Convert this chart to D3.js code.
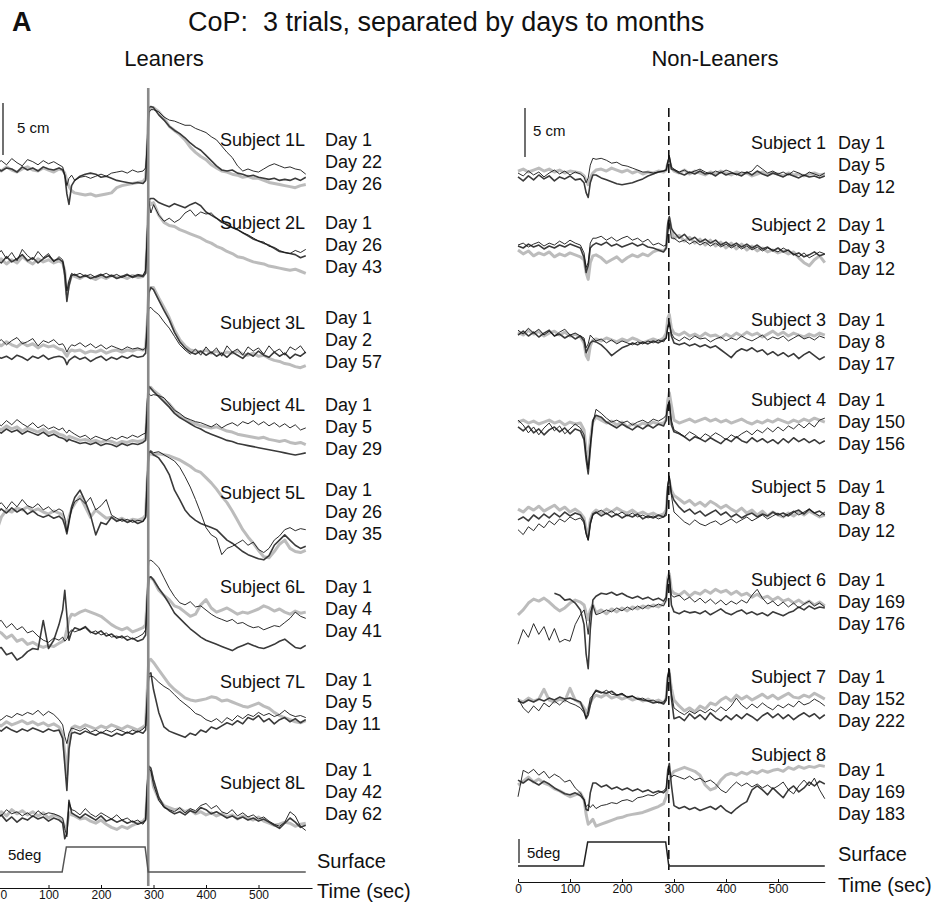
<!DOCTYPE html>
<html><head><meta charset="utf-8">
<script src="https://cdn.jsdelivr.net/npm/d3@7"></script>
<style>
body{margin:0;background:#fff}
svg{display:block}
text{font-family:"Liberation Sans",Arial,Helvetica,sans-serif;fill:#111;white-space:pre}
</style>
</head><body>
<svg id="chart" width="934" height="904"></svg>
<script>
// Sample times (s) shared by every CoP trace
const times = [0,10,20,30,40,50,60,70,80,90,100,110,120, 127,131,135,139,144,
  150,160,170,180,190,200,210,220,230,240,250,260,270,280, 285,288,291,295,
  300,310,320,330,340,350,360,370,380,390,400,410,420,430,440,450,460,470,480,490,
  500,510,520,530,540,550,560,570,580,590];

// Surface tilt (deg) over time
const surfaceTime = [0,126,134,284,290,590];
const surfaceDeg  = [0,0,5,5,0,0];
const tiltReturn = 290;
const tickValues = [0,100,200,300,400,500];

// ---- Leaners: CoP displacement (cm) ----
const cop1L_a = [0.2,-0.1,0.3,0.0,-0.2,0.1,0.3,0.0,-0.1,0.2,0.0,-0.2,0.1, 0.0,-0.3,-1.0,-1.6,-2.0, -2.2,-2.3,-2.4,-2.3,-2.5,-2.4,-2.3,-2.2,-1.7,-1.5,-1.4,-1.3,-1.2,-1.1, -0.8,2.0,5.8,5.9, 6.0,5.6,5.0,4.2,3.8,3.4,2.9,2.2,1.7,1.3,1.0,0.5,0.2,-0.1,-0.2,-0.4,-0.5,-0.7,-0.6,-0.8,-0.8,-1.0,-1.2,-1.3,-1.4,-1.5,-1.6,-1.7,-1.5,-1.4];
const cop1L_b = [0.6,0.9,0.5,1.1,0.7,0.4,1.0,0.8,0.5,0.9,0.6,0.8,0.5, 0.3,-0.5,-1.5,-0.8,-0.5, -1.0,-0.7,-0.6,-0.8,-0.6,-0.4,-0.6,-0.3,-0.2,-0.1,-0.3,0.0,-0.2,-0.1, 0.2,2.5,5.5,5.8, 5.8,5.6,5.1,4.8,4.7,4.5,4.3,4.3,4.0,3.8,3.6,3.2,2.9,2.3,1.7,1.2,0.4,-0.1,0.1,-0.1,-0.2,0.1,0.4,0.6,0.4,0.2,0.3,0.1,0.0,-0.4];
const cop1L_c = [0.3,-0.1,0.2,0.1,-0.2,0.3,0.0,0.2,-0.1,0.3,0.1,0.0,0.2, 0.0,-0.5,-2.3,-3.3,-1.5, -1.0,-0.6,-0.4,-0.3,-0.4,-0.7,-0.6,-0.8,-1.0,-1.1,-1.2,-1.3,-1.2,-1.3, -1.0,2.0,6.0,6.1, 6.0,5.3,4.8,4.2,3.8,3.5,3.1,2.6,2.2,1.9,1.4,0.9,0.4,0.0,-0.1,0.0,-0.3,-0.4,-0.6,-0.5,-0.7,-0.8,-0.9,-0.8,-1.0,-0.9,-1.0,-0.8,-1.0,-0.7];

const cop2L_a = [0.5,0.2,0.8,0.3,0.6,1.0,0.4,0.7,0.2,0.6,0.9,0.4,0.6, 0.3,-1.0,-3.5,-2.0,-1.0, -0.9,-1.2,-1.0,-1.3,-1.1,-0.9,-1.2,-1.0,-1.3,-1.1,-0.9,-1.2,-1.0,-1.1, -0.8,2.5,6.3,6.4, 6.4,6.0,5.8,5.6,5.9,5.7,5.5,5.8,6.0,5.7,5.1,4.8,4.5,4.1,3.9,3.6,3.4,3.1,2.8,2.5,2.3,2.1,1.9,1.6,1.3,1.2,1.1,1.0,0.7,0.9];
const cop2L_b = [0.8,1.4,0.6,1.2,0.4,1.5,0.9,0.5,1.3,0.7,1.1,0.3,0.8, 0.5,-0.5,-2.5,-1.5,-0.8, -1.0,-0.8,-1.1,-0.9,-1.2,-1.0,-0.8,-1.1,-0.9,-1.2,-1.0,-1.1,-0.9,-1.0, -0.5,3.0,6.2,5.0, 5.8,4.8,4.2,4.5,4.1,4.4,5.0,5.3,4.7,5.1,4.9,5.0,4.5,4.2,3.8,3.6,3.4,3.1,2.9,2.6,2.3,2.2,1.8,1.7,1.4,1.2,1.1,1.4,1.2,1.5];
const cop2L_c = [0.3,0.6,0.1,0.5,0.2,0.8,0.4,0.1,0.6,0.3,0.5,0.2,0.4, 0.2,-0.6,-2.8,-1.8,-1.0, -1.1,-1.3,-1.0,-1.2,-1.4,-1.1,-1.3,-1.0,-1.2,-1.1,-1.3,-1.0,-1.2,-1.1, -0.7,2.5,6.3,5.8, 6.0,4.8,4.1,3.8,3.7,3.4,3.2,3.0,2.8,2.6,2.3,2.1,1.8,1.6,1.3,1.1,0.8,0.7,0.5,0.3,0.2,0.1,-0.1,-0.2,-0.3,-0.4,-0.5,-0.4,-0.6,-0.8];

const cop3L_a = [-0.5,-0.8,-0.6,-0.9,-0.5,-0.7,-1.0,-0.6,-0.8,-0.5,-0.9,-0.7,-0.6, -0.7,-0.9,-1.4,-1.0,-0.8, -0.6,-0.9,-0.7,-1.1,-0.8,-0.6,-1.0,-0.7,-0.9,-0.6,-0.8,-0.5,-0.7,-0.6, -0.3,2.5,5.5,6.0, 5.8,4.8,3.8,2.9,1.7,0.8,0.2,-0.2,-0.4,-0.1,-0.5,-0.2,-0.6,-0.3,-0.7,-0.2,-0.5,-0.8,-0.3,-0.6,-0.1,-0.5,-0.7,-0.2,-0.6,-0.3,-0.8,-0.4,-0.6,-0.2];
const cop3L_b = [0.6,1.0,0.5,0.9,1.2,0.6,0.8,1.1,0.4,0.9,0.7,1.0,0.5, 0.6,0.3,-0.2,0.2,0.5, 0.4,0.7,0.3,0.6,0.2,0.5,0.1,0.4,0.2,0.0,0.3,0.1,0.2,0.0, 0.2,2.0,4.0,4.1, 3.8,3.4,2.7,2.1,1.3,0.5,0.0,-0.4,0.1,-0.5,0.3,-0.3,0.2,-0.6,0.4,-0.2,0.1,-0.5,0.3,-0.1,0.2,-0.4,0.4,-0.2,0.1,-0.5,0.3,0.0,0.4,-0.3];
const cop3L_c = [0.7,0.4,0.8,0.5,0.3,0.7,0.4,0.6,0.2,0.5,0.3,0.4,0.1, 0.0,-0.3,-0.6,-0.2,0.0, -0.1,0.0,-0.3,-0.1,-0.2,0.0,-0.3,-0.1,0.0,-0.2,0.0,-0.1,0.1,0.0, 0.2,2.5,5.8,6.0, 6.0,5.0,4.1,3.1,1.9,1.0,0.4,0.0,-0.1,-0.2,0.0,-0.3,-0.1,-0.4,-0.2,-0.3,-0.1,-0.4,-0.5,-0.3,-0.6,-0.5,-0.8,-1.0,-1.1,-1.3,-1.4,-1.6,-1.7,-1.5];

const cop4L_a = [0.8,0.4,0.9,0.5,1.0,0.6,0.3,0.7,0.2,0.5,0.1,0.3,0.0, 0.2,-0.1,-0.3,0.0,-0.2, -0.4,-0.7,-0.5,-0.9,-0.6,-0.8,-1.0,-0.7,-0.9,-0.6,-0.8,-0.5,-0.7,-0.4, -0.3,1.5,3.5,3.3, 3.4,3.3,3.1,2.5,1.9,1.6,1.2,1.0,0.8,0.7,0.5,0.3,0.6,0.2,0.5,0.7,0.4,0.8,0.6,0.9,0.5,0.8,0.4,0.7,0.3,0.6,0.2,0.5,0.0,0.2];
const cop4L_b = [0.3,0.0,0.4,0.1,0.3,-0.1,0.2,0.0,-0.2,0.1,-0.3,-0.1,-0.4, -0.5,-0.6,-0.8,-0.6,-0.7, -0.8,-1.0,-0.9,-1.1,-1.0,-1.2,-1.0,-1.1,-1.3,-1.1,-1.2,-1.0,-1.1,-1.0, -0.8,2.0,4.0,4.1, 3.8,3.4,2.9,2.5,1.9,1.4,1.1,0.8,0.6,0.4,0.3,0.2,0.3,0.1,-0.1,-0.2,-0.4,-0.5,-0.6,-0.7,-0.8,-0.7,-0.9,-1.0,-1.1,-1.0,-1.2,-1.3,-1.2,-1.4];
const cop4L_c = [0.0,-0.3,0.1,-0.2,0.0,-0.4,-0.1,-0.3,-0.5,-0.2,-0.6,-0.4,-0.7, -0.8,-0.9,-1.1,-0.9,-1.0, -1.1,-1.3,-1.2,-1.4,-1.2,-1.5,-1.3,-1.4,-1.6,-1.3,-1.5,-1.3,-1.4,-1.2, -1.0,2.5,4.2,4.0, 3.7,3.2,2.7,2.2,1.6,1.2,0.9,0.6,0.3,0.1,-0.2,-0.4,-0.6,-0.8,-1.0,-1.1,-1.3,-1.4,-1.5,-1.6,-1.7,-1.8,-1.9,-2.0,-2.1,-2.2,-2.3,-2.4,-2.3,-2.2];

const cop5L_a = [-2.0,-0.5,0.2,0.0,0.4,0.2,0.5,0.1,0.3,0.0,-0.2,0.1,-0.1, -0.3,-0.8,-1.5,-0.5,0.3, 0.8,1.5,0.5,-0.5,0.2,-0.2,-0.6,-0.5,-0.8,-0.6,-0.9,-0.7,-0.8,-0.6, -0.3,3.0,5.5,5.6, 5.5,5.6,5.5,5.4,5.2,5.0,4.7,4.4,4.0,3.8,3.3,2.8,2.2,1.5,0.9,0.1,-0.8,-1.7,-2.4,-3.0,-3.7,-4.3,-4.4,-3.8,-3.1,-2.7,-3.5,-3.8,-3.9,-3.7];
const cop5L_b = [0.4,0.9,0.3,1.0,0.5,1.2,0.6,0.4,0.8,0.2,0.5,0.0,0.3, 0.1,-0.6,-1.9,-0.8,0.2, 1.0,1.3,0.8,1.4,0.2,0.6,1.2,-0.3,-0.6,-0.9,-0.7,-1.0,-0.8,-0.9, -0.5,3.0,5.8,5.9, 5.7,5.8,5.5,5.2,4.9,4.3,3.4,2.4,1.2,-0.1,-1.5,-2.2,-2.5,-4.1,-3.5,-3.3,-3.0,-2.7,-3.2,-2.9,-3.6,-3.9,-3.5,-2.7,-2.3,-1.7,-1.5,-1.8,-1.6,-1.7];
const cop5L_c = [-0.2,0.3,-0.1,0.4,0.0,0.3,-0.2,0.1,-0.3,-0.5,-0.3,-0.6,-0.4, -0.7,-1.3,-2.1,-1.0,0.5, 1.4,2.1,1.0,-0.3,-2.2,-1.0,-1.2,-0.5,-0.9,-0.7,-1.0,-0.8,-1.1,-0.9, -0.5,3.0,5.7,5.8, 5.5,5.2,4.5,3.6,2.1,1.2,0.2,-0.4,-0.8,-1.1,-1.3,-1.5,-1.7,-2.2,-2.7,-3.0,-3.4,-3.8,-4.1,-4.3,-4.5,-4.6,-4.2,-3.2,-2.7,-2.2,-2.7,-3.2,-3.5,-3.3];

const cop6L_a = [1.2,1.4,0.7,1.1,0.5,0.8,0.2,0.4,-0.1,-0.5,-0.7,-0.3,-0.5, -0.2,-0.6,-0.4,0.2,0.5, 0.3,0.5,0.7,0.2,0.4,0.0,0.2,-0.2,-0.1,-0.3,-0.1,-0.4,-0.2,0.1, 0.5,4.0,7.1,7.2, 7.0,6.5,5.5,4.5,3.7,3.1,2.9,3.2,2.7,2.8,2.4,2.0,1.7,1.5,1.3,1.5,1.1,1.2,0.9,0.7,0.8,0.5,0.7,0.9,0.8,1.2,1.6,2.2,1.8,1.6];
const cop6L_b = [0.5,0.2,-0.3,0.0,-0.6,-0.4,-0.9,-0.7,-1.0,-1.2,-1.0,-1.1,-0.8, -0.6,-0.3,0.5,1.5,2.0, 1.9,2.2,2.4,2.2,2.0,1.8,1.4,1.0,0.7,0.5,0.7,0.3,0.5,0.7, 1.0,3.5,5.5,5.5, 5.3,4.3,3.8,3.4,2.8,2.6,2.2,1.8,2.0,2.9,3.4,2.6,2.2,2.4,2.6,2.3,2.0,2.2,2.1,2.3,2.5,2.8,2.6,2.3,2.5,2.2,2.0,2.3,2.1,2.2];
const cop6L_c = [-1.4,-1.2,-1.9,-1.7,-2.4,-2.1,-1.6,-1.3,-1.4,1.4,-1.3,-0.5,1.0, 2.4,4.3,1.9,-0.5,0.3, 0.7,0.5,0.8,0.3,0.1,0.4,-0.1,0.1,-0.3,-0.1,-0.5,-0.3,-0.6,-0.4, 0.0,3.0,5.5,5.6, 5.3,4.5,3.8,3.0,2.1,1.6,1.1,0.6,0.2,-0.2,-0.5,-0.7,-0.9,-1.1,-1.3,-1.5,-1.2,-1.0,-0.8,-1.0,-1.2,-1.3,-1.1,-0.9,-0.6,-0.4,-0.8,-1.2,-1.3,-1.0];

const cop7L_a = [0.5,0.2,0.6,0.3,0.5,0.7,0.4,0.6,0.3,0.5,0.2,0.4,0.1, -0.5,-2.5,-4.5,-1.5,0.0, 0.2,0.0,0.3,0.1,-0.1,0.2,0.0,0.3,0.1,-0.1,0.2,0.0,-0.2,0.1, 0.3,3.5,6.5,6.6, 6.3,5.6,4.9,4.2,3.7,3.3,2.9,2.7,2.6,2.7,2.8,3.0,2.9,2.6,2.7,2.5,2.3,2.1,2.0,2.2,2.4,2.1,1.9,1.5,1.2,1.0,0.8,0.6,0.5,0.7];
const cop7L_b = [0.6,0.8,1.2,1.0,1.4,1.2,1.5,1.3,1.7,1.2,1.6,1.3,0.8, 0.3,-0.8,-1.5,-0.5,0.0, -0.1,-0.3,0.0,-0.4,-0.2,-0.5,-0.2,-0.4,-0.1,-0.3,-0.5,-0.2,-0.4,-0.1, 0.2,2.5,4.9,5.0, 4.9,4.4,4.0,3.7,3.2,2.7,2.3,1.9,1.4,1.2,0.8,0.6,0.9,0.5,1.0,0.7,1.2,0.9,1.3,1.1,1.5,1.2,1.4,1.1,1.3,1.7,1.3,1.1,1.2,1.0];
const cop7L_c = [0.0,-0.3,0.1,-0.2,-0.4,-0.1,-0.3,0.0,-0.2,-0.4,-0.1,-0.3,-0.2, -1.0,-3.5,-6.0,-2.0,-0.5, -0.4,-0.6,-0.3,-0.5,-0.7,-0.4,-0.6,-0.8,-0.5,-0.7,-0.4,-0.6,-0.3,-0.5, -0.2,3.0,5.2,5.3, 3.7,1.5,0.1,-0.3,-0.5,-0.7,-0.9,-0.5,-0.7,-0.2,-0.4,0.1,-0.1,0.2,0.5,0.3,0.7,0.4,1.0,0.8,1.2,0.6,0.9,0.4,0.8,1.0,0.6,0.9,0.5,0.8];

const cop8L_a = [0.5,0.2,0.8,0.4,0.6,0.2,0.5,0.1,0.7,0.3,0.5,0.4,0.2, 0.0,-1.0,-1.8,1.5,0.8, 0.7,0.3,0.9,0.4,0.1,0.5,0.2,-0.1,0.3,-0.2,0.0,-0.4,-0.2,-0.6, -0.2,3.0,4.8,4.5, 3.2,1.7,1.0,0.8,0.6,1.0,0.5,0.9,0.7,1.2,1.4,0.9,1.2,0.6,0.4,0.8,0.2,0.5,0.1,0.3,-0.1,0.1,-0.3,-0.6,-0.8,-0.4,0.6,0.2,-0.8,-1.2];
const cop8L_b = [-0.2,0.3,-0.3,0.1,-0.4,0.0,-0.2,0.2,-0.1,0.1,-0.3,0.0,-0.2, -0.5,-2.0,-1.5,1.7,0.5, 0.3,0.0,0.4,0.1,-0.2,0.2,-0.3,-0.1,-0.4,-0.2,-0.5,-0.3,-0.6,-0.4, -0.2,3.0,5.0,4.8, 3.7,2.0,1.1,0.7,0.4,0.6,0.3,0.7,0.5,1.0,0.8,0.4,0.6,0.3,0.0,0.2,-0.1,0.1,-0.2,0.0,-0.3,-0.1,-0.4,-0.7,-1.0,-0.5,0.0,-0.4,-0.9,-0.7];
const cop8L_c = [0.3,0.6,0.2,0.8,0.4,0.7,0.3,0.6,0.2,0.5,0.0,0.3,0.1, -0.3,-1.0,-0.8,0.5,0.3, 0.2,-0.1,0.0,-0.3,-0.5,-0.2,-0.6,-0.9,-1.1,-0.8,-1.0,-0.7,-0.5,-0.3, 0.0,2.5,4.6,4.5, 3.0,1.8,1.2,1.0,0.8,0.9,0.6,0.8,0.4,0.6,0.3,0.5,0.2,0.4,0.1,0.3,-0.1,0.2,0.0,-0.2,0.1,-0.3,-0.5,-0.7,-0.6,-0.4,-0.5,-0.8,-0.6,-0.5];

// ---- Non-Leaners: CoP displacement (cm) ----
const copR1_a = [0.2,0.4,0.1,0.3,0.5,0.2,0.4,0.1,0.3,0.0,0.2,0.1,0.0, -0.3,-0.8,-1.2,-0.5,0.0, 0.3,0.4,0.2,0.5,0.3,0.1,0.3,0.0,0.2,-0.1,0.1,0.0,0.2,0.1, 0.3,1.0,1.3,0.5, 0.2,0.0,0.3,-0.1,0.2,0.0,-0.2,0.1,-0.1,0.2,0.0,-0.2,0.1,-0.1,0.0,-0.3,-0.1,0.1,-0.2,0.0,-0.1,-0.3,0.0,-0.2,-0.1,-0.3,-0.1,0.0,-0.2,-0.1];
const copR1_b = [0.0,-0.3,0.2,-0.2,0.1,-0.4,0.0,0.3,-0.1,0.2,-0.2,0.1,-0.1, -0.4,-1.0,-0.5,0.8,1.5, 1.4,1.5,1.3,1.0,1.1,0.8,0.7,0.5,0.3,0.1,0.1,0.0,0.1,0.2, 0.3,1.2,1.8,0.6, 0.4,0.1,0.3,0.0,0.2,0.4,0.1,-0.1,0.2,0.0,0.3,0.1,-0.2,0.1,0.0,0.2,0.8,0.4,0.0,0.2,-0.1,0.1,-0.2,0.2,0.0,-0.3,0.1,-0.1,-0.3,0.0];
const copR1_c = [-0.4,-0.8,-0.3,-0.7,-0.2,-0.6,-0.3,-0.8,-0.4,-0.6,-0.3,-0.7,-0.6, -1.0,-2.0,-2.5,-1.0,-0.2, -0.2,-0.5,-0.7,-0.9,-1.1,-1.2,-1.1,-1.0,-0.8,-0.6,-0.3,-0.1,0.1,0.2, 0.3,1.0,1.6,0.4, 0.3,0.0,-0.2,0.1,-0.1,0.2,-0.1,0.0,-0.3,0.1,-0.2,0.0,-0.1,-0.3,0.1,-0.2,0.2,-0.1,-0.3,0.0,-0.2,-0.4,-0.1,-0.3,-0.5,-0.2,-0.4,-0.3,-0.5,-0.3];

const copR2_a = [-0.2,-0.6,-0.3,-0.8,-0.5,-0.7,-0.4,-0.9,-0.6,-0.8,-0.5,-0.7,-0.9, -1.2,-2.5,-3.2,-1.5,-0.8, -0.7,-1.0,-1.5,-1.2,-0.9,-1.4,-1.0,-0.7,-0.9,-0.6,-0.8,-0.4,-0.2,-0.3, 0.0,2.0,3.0,1.8, 1.0,1.3,0.7,1.1,0.5,0.9,0.3,0.8,0.2,0.6,0.0,0.5,-0.1,0.4,-0.2,0.2,-0.3,0.0,-0.4,-0.2,-0.5,-0.3,-0.6,-0.4,-1.0,-1.5,-1.8,-1.2,-0.8,-1.5];
const copR2_b = [0.3,0.5,0.1,0.4,0.6,0.2,0.5,0.3,0.7,0.4,0.8,0.5,0.3, -0.5,-2.0,-1.5,0.5,1.0, 1.0,1.2,0.8,1.1,0.7,1.0,1.2,0.8,1.0,0.6,0.9,0.3,0.5,0.2, 0.3,1.5,2.5,1.0, 1.0,0.6,0.8,0.4,0.7,0.3,0.6,0.2,0.5,0.1,0.4,0.0,0.3,-0.1,0.2,-0.2,0.1,-0.3,0.0,-0.2,-0.4,0.0,-0.3,-0.6,-0.9,-0.5,-1.0,-0.7,-0.4,-0.6];
const copR2_c = [0.2,0.0,0.4,0.1,0.3,-0.1,0.2,0.0,0.3,0.1,0.4,0.2,0.0, -1.0,-2.5,-1.8,0.0,0.3, 0.5,0.3,0.6,0.2,0.4,0.1,0.3,0.5,0.2,0.4,0.1,0.0,-0.2,-0.4, 0.0,2.5,3.2,2.0, 1.6,1.0,1.4,0.8,1.1,0.6,0.9,0.5,0.8,0.3,0.6,0.2,0.5,0.1,0.4,0.0,0.3,-0.1,0.1,-0.3,0.0,-0.4,-0.2,-0.7,-0.5,-0.9,-0.7,-0.4,-0.8,-0.6];

const copR3_a = [0.6,0.3,0.8,0.4,0.7,0.2,0.5,0.7,0.3,0.6,0.2,0.4,0.1, -0.5,-1.8,-2.2,-0.8,-0.2, -0.1,-0.3,0.0,-0.2,-0.4,-0.1,-0.3,0.0,-0.2,-0.5,-0.3,-0.1,-0.3,0.0, 0.5,2.0,2.4,1.0, 0.5,0.3,0.6,0.2,0.4,0.1,0.5,0.2,0.3,0.0,0.4,0.1,0.5,0.2,0.6,0.3,0.5,0.1,0.4,0.7,0.3,0.6,0.2,0.5,0.3,0.1,0.4,0.2,0.5,0.3];
const copR3_b = [0.8,0.4,1.0,0.5,0.9,0.3,0.7,0.2,0.6,0.9,0.3,0.5,0.2, 0.0,-1.0,-0.6,0.3,0.0, -0.3,-0.1,-0.5,-0.2,-0.6,-0.3,-0.5,-0.7,-0.4,-0.6,-0.3,-0.5,-0.2,-0.4, 0.0,1.0,1.5,0.5, 0.0,-0.3,0.1,-0.2,0.2,-0.1,0.0,-0.4,-0.1,0.1,-0.3,0.0,-0.2,0.2,-0.1,-0.3,0.0,0.3,-0.2,0.1,-0.1,0.2,-0.3,0.0,0.3,-0.1,0.1,-0.2,0.2,0.0];
const copR3_c = [0.3,0.7,0.2,0.6,0.1,0.5,0.8,0.2,0.4,0.0,0.3,-0.1,0.2, -0.3,-1.5,-1.0,-0.5,-0.3, -0.4,-0.7,-1.2,-1.8,-1.4,-1.0,-0.8,-0.5,-0.7,-0.4,-0.6,-0.3,-0.5,-0.2, 0.0,1.2,1.6,0.2, -0.5,-0.7,-0.5,-0.8,-0.6,-0.9,-0.7,-1.0,-0.8,-1.2,-1.6,-2.0,-1.4,-1.1,-1.3,-1.0,-1.4,-1.2,-1.7,-1.4,-1.8,-1.5,-1.9,-1.6,-2.1,-1.7,-1.4,-1.8,-2.2,-1.9];

const copR4_a = [0.3,0.5,0.2,0.4,0.1,0.3,0.5,0.2,0.4,0.0,0.3,0.1,0.2, -0.5,-2.5,-4.0,-1.5,0.3, 0.8,0.5,0.2,0.4,0.0,0.3,-0.2,0.1,-0.1,0.2,0.0,0.3,0.1,0.2, 0.5,2.5,3.3,2.0, 0.5,0.2,0.4,0.6,0.3,0.5,0.7,0.4,0.6,0.3,0.5,0.2,0.4,0.6,0.3,0.1,0.4,0.2,0.5,0.3,0.6,0.4,0.2,0.5,0.3,0.6,0.4,0.7,0.5,0.3];
const copR4_b = [0.5,0.0,-0.8,-0.2,-1.0,-0.3,0.2,-0.6,-0.1,-0.9,-0.4,0.1,-0.3, -1.0,-3.0,-4.5,-2.0,0.2, 1.6,1.2,0.7,0.3,0.5,0.2,0.4,0.0,0.3,0.5,0.2,0.6,0.4,0.7, 1.0,2.0,2.5,0.5, -0.5,-0.8,-1.2,-0.7,-1.0,-1.4,-0.9,-1.2,-0.8,-1.1,-1.5,-1.0,-1.3,-0.9,-0.6,-1.0,-0.5,-0.8,-0.3,-0.7,-0.2,-0.6,-0.1,-0.4,0.1,-0.3,0.2,-0.2,0.5,0.7];
const copR4_c = [-0.2,-0.6,-0.1,-0.8,-0.4,-1.0,-0.5,-0.2,-0.7,-0.3,-0.9,-0.4,-0.6, -1.5,-3.5,-5.0,-2.5,0.5, 1.0,0.8,0.3,0.0,-0.3,0.1,-0.2,-0.5,-0.1,-0.4,0.0,-0.3,0.1,-0.1, 0.5,2.0,2.2,0.0, -0.7,-0.9,-1.2,-1.6,-1.2,-1.4,-1.7,-1.3,-1.6,-1.9,-1.4,-1.7,-1.2,-1.6,-1.8,-1.3,-1.7,-1.4,-1.8,-1.5,-1.9,-1.4,-1.8,-1.3,-1.7,-1.4,-1.8,-1.5,-1.9,-1.6];

const copR5_a = [0.6,0.3,0.8,0.5,0.9,0.4,0.7,1.0,0.5,0.8,0.3,0.6,0.2, -0.3,-1.5,-2.0,-0.5,0.2, 0.5,0.2,0.6,0.3,0.7,0.4,0.2,0.5,0.1,0.3,0.0,0.2,-0.1,0.1, 0.5,2.5,3.5,2.5, 2.0,1.6,1.2,1.5,1.0,1.3,0.9,1.4,1.1,0.7,1.0,0.6,0.3,0.7,0.2,0.5,0.0,0.4,-0.1,0.3,0.0,-0.2,0.2,-0.1,0.3,0.0,0.4,0.1,-0.2,0.0];
const copR5_b = [-1.5,-2.0,-1.2,-1.6,-0.9,-1.3,-0.6,-1.0,-0.4,-0.7,-0.2,-0.5,-0.3, -0.8,-2.0,-2.6,-1.0,0.0, 0.2,0.5,0.1,0.4,0.0,0.3,-0.1,0.2,-0.2,0.0,-0.3,-0.1,-0.4,-0.2, 0.3,3.0,4.0,2.0, 0.3,-0.2,-0.7,-1.0,-0.5,-0.9,-1.1,-0.8,-0.6,-1.0,-0.7,-0.4,-0.8,-0.5,-0.2,-0.6,-0.3,0.0,-0.4,-0.1,0.2,-0.2,0.1,0.4,0.0,0.3,0.6,0.2,-0.1,0.3];
const copR5_c = [-0.5,-0.2,-0.6,0.0,-0.4,0.1,-0.3,0.2,-0.2,0.3,-0.1,0.2,0.0, -0.6,-1.8,-2.5,-0.8,0.1, 0.3,-0.1,0.2,-0.2,0.1,-0.3,0.0,-0.2,0.1,-0.4,-0.1,-0.3,0.0,-0.2, 0.0,3.0,3.8,2.2, 1.5,0.8,0.3,0.6,0.1,0.4,-0.1,0.2,0.5,0.0,0.3,-0.2,0.1,-0.3,0.0,0.2,-0.2,0.1,-0.1,0.3,0.0,0.2,-0.1,0.3,0.5,0.1,0.6,0.2,0.4,0.0];

const copR6_a = [-1.0,-0.5,0.2,0.6,0.4,0.7,0.3,-0.2,-0.6,-0.3,0.2,0.5,0.3, 0.0,-0.8,-1.5,-0.5,0.0, -0.8,-0.5,-0.9,-0.4,-0.7,-0.3,-0.6,-0.2,-0.4,-0.1,-0.3,0.0,-0.2,0.1, 0.5,2.8,3.2,1.5, 1.2,1.0,1.4,0.9,1.3,1.1,1.5,1.2,1.6,1.3,1.5,1.1,1.4,1.0,1.2,0.8,1.1,0.7,0.9,0.5,0.8,0.4,0.6,0.2,0.5,0.1,0.4,0.0,0.3,-0.1];
const copR6_b = [-4.0,-2.5,-3.3,-1.9,-3.0,-2.2,-3.6,-2.4,-3.8,-3.5,-3.7,-2.0,-1.0, -0.5,-1.5,-3.0,-0.8,0.0, -1.0,-0.8,-0.5,-0.7,-0.3,-0.6,-0.2,-0.5,-0.1,-0.4,0.0,-0.2,0.1,-0.1, 0.5,2.5,3.0,1.0, 0.8,1.0,0.5,0.8,0.3,0.7,0.2,0.6,0.1,0.5,0.0,0.4,0.1,0.5,0.2,1.0,1.6,0.7,0.1,0.4,-0.1,0.3,-0.2,0.2,-0.3,0.1,0.4,-0.1,0.2,-0.2];
const copR6_c = [null,null,null,null,null,null,null,1.2,1.0,0.5,0.6,0.2,-0.5, -2.0,-5.0,-6.5,-2.5,0.5, 0.9,1.2,1.1,1.3,1.0,1.2,0.9,0.7,0.9,0.6,0.8,0.5,0.7,0.4, 0.8,2.5,3.0,0.0, -0.7,-0.9,-0.6,-0.8,-0.7,-0.9,-0.6,-1.0,-0.7,-0.4,-0.8,-1.0,-0.7,-0.5,-0.9,-0.7,-1.0,-0.8,-1.1,-0.7,-0.9,-1.1,-0.8,-0.6,-0.2,-0.5,-0.1,-0.4,-0.2,-0.3];

const copR7_a = [0.3,0.1,0.5,0.2,0.4,1.4,0.3,0.1,0.4,0.2,1.5,0.3,0.0, -0.5,-1.0,-0.6,0.0,0.5, 0.8,0.6,0.9,0.5,0.7,0.4,0.6,0.3,0.5,0.2,0.4,0.1,0.3,0.0, 0.5,2.5,3.0,1.5, 0.3,-0.3,-0.8,-0.5,-0.9,-0.3,-0.6,0.0,-0.2,0.3,0.6,0.2,0.8,0.4,0.7,0.3,0.6,0.9,0.5,0.8,0.4,0.7,1.0,0.6,0.5,0.8,0.6,1.0,0.7,0.4];
const copR7_b = [0.5,-0.5,-1.0,-0.3,-0.8,0.0,-0.4,0.2,-0.2,0.3,0.0,-0.2,-0.5, -1.0,-1.5,-0.8,0.5,0.8, 1.2,1.0,1.3,0.9,0.8,1.0,0.6,0.7,0.4,0.5,0.2,0.3,0.0,0.1, 0.5,2.5,3.4,1.0, -0.5,-0.9,-1.2,-0.8,-1.1,-0.7,-1.0,-0.6,-0.9,-0.4,-0.8,-0.3,0.5,-0.2,-0.6,-0.1,-0.5,0.0,-0.4,-0.7,-0.2,-0.5,-0.1,-0.4,0.2,-0.2,0.0,0.4,0.1,-0.3];
const copR7_c = [0.2,0.0,0.3,0.1,0.4,0.2,0.5,0.3,0.6,0.4,0.5,0.3,0.1, -0.8,-1.6,-1.2,-0.2,0.8, 1.3,1.1,1.0,1.2,0.8,0.9,0.6,0.7,0.4,0.3,0.2,0.0,0.1,-0.1, 0.3,2.8,3.4,0.5, -1.6,-1.4,-1.8,-1.1,-1.6,-1.2,-1.7,-1.0,-1.5,-1.8,-1.3,-1.7,-1.2,-1.6,-1.1,-1.4,-1.8,-1.3,-1.0,-1.5,-1.1,-1.6,-1.2,-1.7,-1.3,-1.0,-1.4,-1.1,-1.6,-1.2];

const copR8_a = [-1.2,1.5,1.2,1.6,1.0,1.4,0.7,1.1,0.8,0.3,0.5,-0.3,-0.8, -1.5,-2.2,-2.0,-2.3,-2.0, -2.4,-2.1,-2.0,-1.8,-1.9,-1.6,-1.5,-1.7,-1.3,-1.2,-1.0,-1.1,-0.8,-0.6, -0.3,1.0,1.5,0.8, 1.0,0.8,0.6,0.9,0.5,0.7,0.3,0.5,0.1,-0.5,-0.8,-0.2,0.3,-0.1,0.2,-0.2,0.1,-0.3,0.0,-0.4,-0.1,0.3,-0.5,-0.9,-0.1,0.5,-0.1,0.7,-0.5,-1.4];
const copR8_b = [0.0,0.4,0.8,0.3,0.6,0.2,0.0,-0.4,-0.6,-0.9,-1.2,-1.0,-0.8, -1.5,-3.0,-4.0,-3.8,-3.5, -4.2,-4.0,-3.8,-3.6,-3.4,-3.3,-3.1,-3.0,-2.9,-2.8,-2.6,-2.4,-2.2,-1.9, -1.2,0.0,0.5,1.0, 1.4,1.6,1.8,1.6,1.4,1.0,0.0,-0.5,-0.3,0.5,1.0,1.2,1.0,1.3,1.1,1.4,1.2,1.5,1.3,1.5,1.6,1.4,1.8,1.6,1.9,1.7,1.9,1.8,2.0,1.9];
const copR8_c = [0.5,0.2,0.6,0.3,0.0,0.4,0.1,-0.3,-0.6,-0.9,-1.0,-0.8,-1.1, -1.5,-2.5,-2.6,-0.8,0.2, 0.2,-0.2,0.0,-0.4,-0.2,-0.5,-0.3,-0.6,-0.4,-0.7,-0.5,-0.8,-0.6,-0.8, -0.5,1.5,2.2,0.0, -2.1,-2.4,-2.2,-2.5,-2.3,-2.6,-2.4,-2.2,-2.5,-2.1,-2.6,-2.9,-2.4,-2.0,-1.7,-0.5,-0.1,-0.5,-1.0,-0.3,-0.8,-1.3,-0.5,-0.1,-0.7,-0.3,0.3,-0.1,0.4,0.1];

// Labels
const leftSubjects = ["Subject 1L","Subject 2L","Subject 3L","Subject 4L","Subject 5L","Subject 6L","Subject 7L","Subject 8L"];
const leftDays = [["Day 1","Day 22","Day 26"],["Day 1","Day 26","Day 43"],["Day 1","Day 2","Day 57"],["Day 1","Day 5","Day 29"],
  ["Day 1","Day 26","Day 35"],["Day 1","Day 4","Day 41"],["Day 1","Day 5","Day 11"],["Day 1","Day 42","Day 62"]];
const rightSubjects = ["Subject 1","Subject 2","Subject 3","Subject 4","Subject 5","Subject 6","Subject 7","Subject 8"];
const rightDays = [["Day 1","Day 5","Day 12"],["Day 1","Day 3","Day 12"],["Day 1","Day 8","Day 17"],["Day 1","Day 150","Day 156"],
  ["Day 1","Day 8","Day 12"],["Day 1","Day 169","Day 176"],["Day 1","Day 152","Day 222"],["Day 1","Day 169","Day 183"]];

// Trace groups per subject and the line style of each trial
const leftTraces = [[cop1L_a,cop1L_b,cop1L_c],[cop2L_a,cop2L_b,cop2L_c],[cop3L_a,cop3L_b,cop3L_c],[cop4L_a,cop4L_b,cop4L_c],
  [cop5L_a,cop5L_b,cop5L_c],[cop6L_a,cop6L_b,cop6L_c],[cop7L_a,cop7L_b,cop7L_c],[cop8L_a,cop8L_b,cop8L_c]];
const leftKinds = [["gray","thin","medium"],["medium","thin","gray"],["medium","thin","gray"],["thin","gray","medium"],
  ["gray","thin","medium"],["thin","gray","medium"],["gray","thin","medium"],["thin","medium","gray"]];
const rightTraces = [[copR1_a,copR1_b,copR1_c],[copR2_a,copR2_b,copR2_c],[copR3_a,copR3_b,copR3_c],[copR4_a,copR4_b,copR4_c],
  [copR5_a,copR5_b,copR5_c],[copR6_a,copR6_b,copR6_c],[copR7_a,copR7_b,copR7_c],[copR8_a,copR8_b,copR8_c]];
const rightKinds = [["gray","thin","medium"],["gray","thin","medium"],["gray","thin","medium"],["gray","thin","medium"],
  ["gray","thin","medium"],["gray","thin","medium"],["gray","thin","medium"],["thin","gray","medium"]];

// ---------------- layout ----------------
const svg = d3.select("#chart");
const defs = svg.append("defs");
defs.append("filter").attr("id","soft").attr("x","-5%").attr("y","-20%").attr("width","110%").attr("height","140%")
  .append("feGaussianBlur").attr("stdDeviation",0.7);

const styles = {
  gray:   {stroke:"#b8b8b8", width:3.0, opacity:0.95, filter:"url(#soft)"},
  medium: {stroke:"#3a3a3a", width:1.6, opacity:1, filter:null},
  thin:   {stroke:"#151515", width:0.9, opacity:1, filter:null}
};
const drawOrder = {gray:0, medium:1, thin:2};

const panels = [
  { x: d3.scaleLinear().domain([0,590]).range([-4,305.75]), k:10.4,
    base:[170,265,350,430,512,635,728,818],
    subjY:[140,223,323,405,493,587,682,783], dayY:[140,223,318,405,490,587,680,770],
    subjX:305, dayX:325, traces:leftTraces, kinds:leftKinds, subjects:leftSubjects, days:leftDays,
    surf:[872,847], axisY:888, axisEnd:602, labelX:317, surfTextY:861, timeTextY:891,
    barX:3, barBottom:155, barText:[17,128], degBarX:null, degText:[8,855] },
  { x: d3.scaleLinear().domain([0,590]).range([518,824.8]), k:9.8,
    base:[173,248,338,425,515,605,703,785],
    subjY:[143,225,320,400,487,580,677,755], dayY:[143,225,320,400,487,580,677,770],
    subjX:826, dayX:838, traces:rightTraces, kinds:rightKinds, subjects:rightSubjects, days:rightDays,
    surf:[866,842], axisY:882, axisEnd:590, labelX:838, surfTextY:854, timeTextY:885,
    barX:525, barBottom:157, barText:[533,131], degBarX:519, degText:[527,853] }
];

panels.forEach((p, pi) => {
  const g = svg.append("g");

  // CoP traces
  p.traces.forEach((trio, r) => {
    const y = d3.scaleLinear().domain([0,1]).range([p.base[r], p.base[r] - p.k]);
    const line = d3.line()
      .defined(d => d[1] !== null && d[0] !== undefined)
      .x(d => p.x(d[0])).y(d => y(d[1]));
    const items = trio.map((vals, j) => ({vals, kind: p.kinds[r][j]}))
      .sort((a,b) => drawOrder[a.kind] - drawOrder[b.kind]);
    items.forEach(it => {
      const s = styles[it.kind];
      g.append("path")
        .datum(it.vals.map((v,i) => [times[i], v]))
        .attr("d", line)
        .attr("fill","none")
        .attr("stroke", s.stroke)
        .attr("stroke-width", s.width)
        .attr("stroke-opacity", s.opacity)
        .attr("stroke-linejoin","round")
        .attr("filter", s.filter);
    });

    // labels
    g.append("text").attr("x", p.subjX).attr("y", p.subjY[r]).attr("dy","0.35em")
      .attr("text-anchor","end").style("font-size","18px").text(p.subjects[r]);
    p.days[r].forEach((d, j) => {
      g.append("text").attr("x", p.dayX).attr("y", p.dayY[r] + j*22).attr("dy","0.35em")
        .style("font-size","18px").text(d);
    });
  });

  // tilt-return marker
  const xr = p.x(tiltReturn);
  if (pi === 0) {
    g.append("line").attr("x1",xr).attr("x2",xr).attr("y1",88).attr("y2",886)
      .attr("stroke","#8a8a8a").attr("stroke-width",2.6);
  } else {
    g.append("line").attr("x1",xr).attr("x2",xr).attr("y1",108).attr("y2",870)
      .attr("stroke","#111").attr("stroke-width",1.6).attr("stroke-dasharray","9,5");
  }

  // 5 cm scale bar
  g.append("line").attr("x1",p.barX).attr("x2",p.barX)
    .attr("y1",p.barBottom).attr("y2",p.barBottom - 5*p.k)
    .attr("stroke","#111").attr("stroke-width",1.2);
  g.append("text").attr("x",p.barText[0]).attr("y",p.barText[1]).attr("dy","0.35em")
    .style("font-size","15px").text("5 cm");

  // surface tilt trace
  const ys = d3.scaleLinear().domain([0,5]).range(p.surf);
  g.append("path")
    .datum(surfaceTime.map((t,i) => [t, surfaceDeg[i]]))
    .attr("d", d3.line().x(d => p.x(d[0])).y(d => ys(d[1])))
    .attr("fill","none").attr("stroke", pi === 0 ? "#555" : "#222").attr("stroke-width",1.5);
  if (p.degBarX !== null) {
    g.append("line").attr("x1",p.degBarX).attr("x2",p.degBarX).attr("y1",ys(0)-3).attr("y2",ys(5)-3)
      .attr("stroke","#111").attr("stroke-width",1.2);
  }
  g.append("text").attr("x",p.degText[0]).attr("y",p.degText[1]).attr("dy","0.35em")
    .style("font-size","15px").text("5deg");
  g.append("text").attr("x",p.labelX).attr("y",p.surfTextY).attr("dy","0.35em")
    .style("font-size","20px").text("Surface");

  // time axis
  const ax = p.x.copy().domain([0,p.axisEnd]).range([p.x(0), p.x(p.axisEnd)]);
  const axisG = g.append("g").attr("transform",`translate(0,${p.axisY})`)
    .call(d3.axisBottom(ax).tickValues(tickValues).tickSizeInner(-3).tickSizeOuter(0).tickPadding(2));
  axisG.select(".domain").attr("stroke","#111").attr("stroke-width",1.2);
  axisG.selectAll(".tick line").attr("stroke","#111");
  axisG.selectAll(".tick text").style("font-size","12px")
    .style("font-family","Liberation Sans, Arial, sans-serif").attr("fill","#111");
  // keep the first tick label inside the page edge
  axisG.selectAll(".tick text").filter(d => d === 0 && p.x(0) < 4).attr("text-anchor","start")
    .attr("x", -p.x(0));
  g.append("text").attr("x",p.labelX).attr("y",p.timeTextY).attr("dy","0.35em")
    .style("font-size","20px").text("Time (sec)");
});

// headings
svg.append("text").attr("x",12).attr("y",22).attr("dy","0.35em")
  .style("font-size","27px").style("font-weight","bold").text("A");
svg.append("text").attr("x",188).attr("y",22).attr("dy","0.35em")
  .style("font-size","27px").text("CoP:  3 trials, separated by days to months");
svg.append("text").attr("x",164).attr("y",58).attr("dy","0.35em").attr("text-anchor","middle")
  .style("font-size","22px").text("Leaners");
svg.append("text").attr("x",715).attr("y",58).attr("dy","0.35em").attr("text-anchor","middle")
  .style("font-size","22px").text("Non-Leaners");
</script>
</body></html>
